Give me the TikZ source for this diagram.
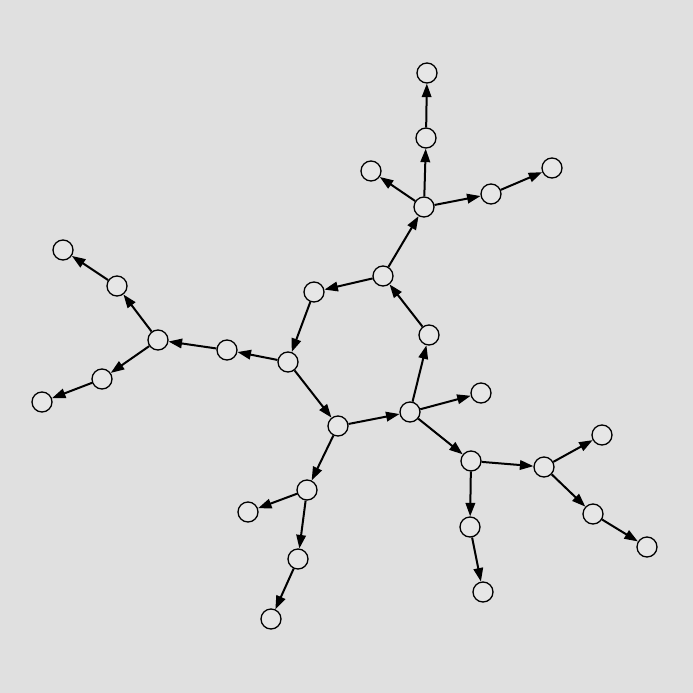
\documentclass[tikz,border=0pt]{standalone}
\usetikzlibrary{arrows.meta}
\definecolor{bg}{HTML}{E0E0E0}
\definecolor{nodefill}{HTML}{E6E6E6}
\begin{document}
\begin{tikzpicture}[x=1pt,y=-1pt,
  vtx/.style={circle,draw=black,line width=1.3pt,fill=nodefill,minimum size=20pt,inner sep=0pt},
  edge/.style={line width=2pt,-{Triangle[length=13.5pt,width=9.5pt]},shorten >=0pt}]
\fill[bg] (0,0) rectangle (693,693);
\useasboundingbox (0,0) rectangle (693,693);
\node[vtx] (n1) at (427,73) {};
\node[vtx] (n2) at (426,138) {};
\node[vtx] (n3) at (371,171) {};
\node[vtx] (n4) at (552,168) {};
\node[vtx] (n5) at (491,194) {};
\node[vtx] (n6) at (424,207) {};
\node[vtx] (n7) at (383,276) {};
\node[vtx] (n8) at (314,292) {};
\node[vtx] (n9) at (429,335) {};
\node[vtx] (n10) at (288,362) {};
\node[vtx] (n11) at (227,350) {};
\node[vtx] (n12) at (158,340) {};
\node[vtx] (n13) at (117,286) {};
\node[vtx] (n14) at (63,250) {};
\node[vtx] (n15) at (102,379) {};
\node[vtx] (n16) at (42,402) {};
\node[vtx] (n17) at (481,393) {};
\node[vtx] (n18) at (410,412) {};
\node[vtx] (n19) at (338,426) {};
\node[vtx] (n20) at (471,461) {};
\node[vtx] (n21) at (544,467) {};
\node[vtx] (n22) at (602,435) {};
\node[vtx] (n23) at (593,514) {};
\node[vtx] (n24) at (647,547) {};
\node[vtx] (n25) at (470,527) {};
\node[vtx] (n26) at (483,592) {};
\node[vtx] (n27) at (307,490) {};
\node[vtx] (n28) at (248,512) {};
\node[vtx] (n29) at (298,559) {};
\node[vtx] (n30) at (271,619) {};
\draw[edge] (n2) -- (n1);
\draw[edge] (n6) -- (n2);
\draw[edge] (n6) -- (n3);
\draw[edge] (n6) -- (n5);
\draw[edge] (n5) -- (n4);
\draw[edge] (n7) -- (n6);
\draw[edge] (n7) -- (n8);
\draw[edge] (n9) -- (n7);
\draw[edge] (n18) -- (n9);
\draw[edge] (n8) -- (n10);
\draw[edge] (n10) -- (n11);
\draw[edge] (n11) -- (n12);
\draw[edge] (n12) -- (n13);
\draw[edge] (n13) -- (n14);
\draw[edge] (n12) -- (n15);
\draw[edge] (n15) -- (n16);
\draw[edge] (n10) -- (n19);
\draw[edge] (n19) -- (n18);
\draw[edge] (n18) -- (n17);
\draw[edge] (n18) -- (n20);
\draw[edge] (n20) -- (n21);
\draw[edge] (n21) -- (n22);
\draw[edge] (n21) -- (n23);
\draw[edge] (n23) -- (n24);
\draw[edge] (n20) -- (n25);
\draw[edge] (n25) -- (n26);
\draw[edge] (n19) -- (n27);
\draw[edge] (n27) -- (n28);
\draw[edge] (n27) -- (n29);
\draw[edge] (n29) -- (n30);
\end{tikzpicture}
\end{document}
